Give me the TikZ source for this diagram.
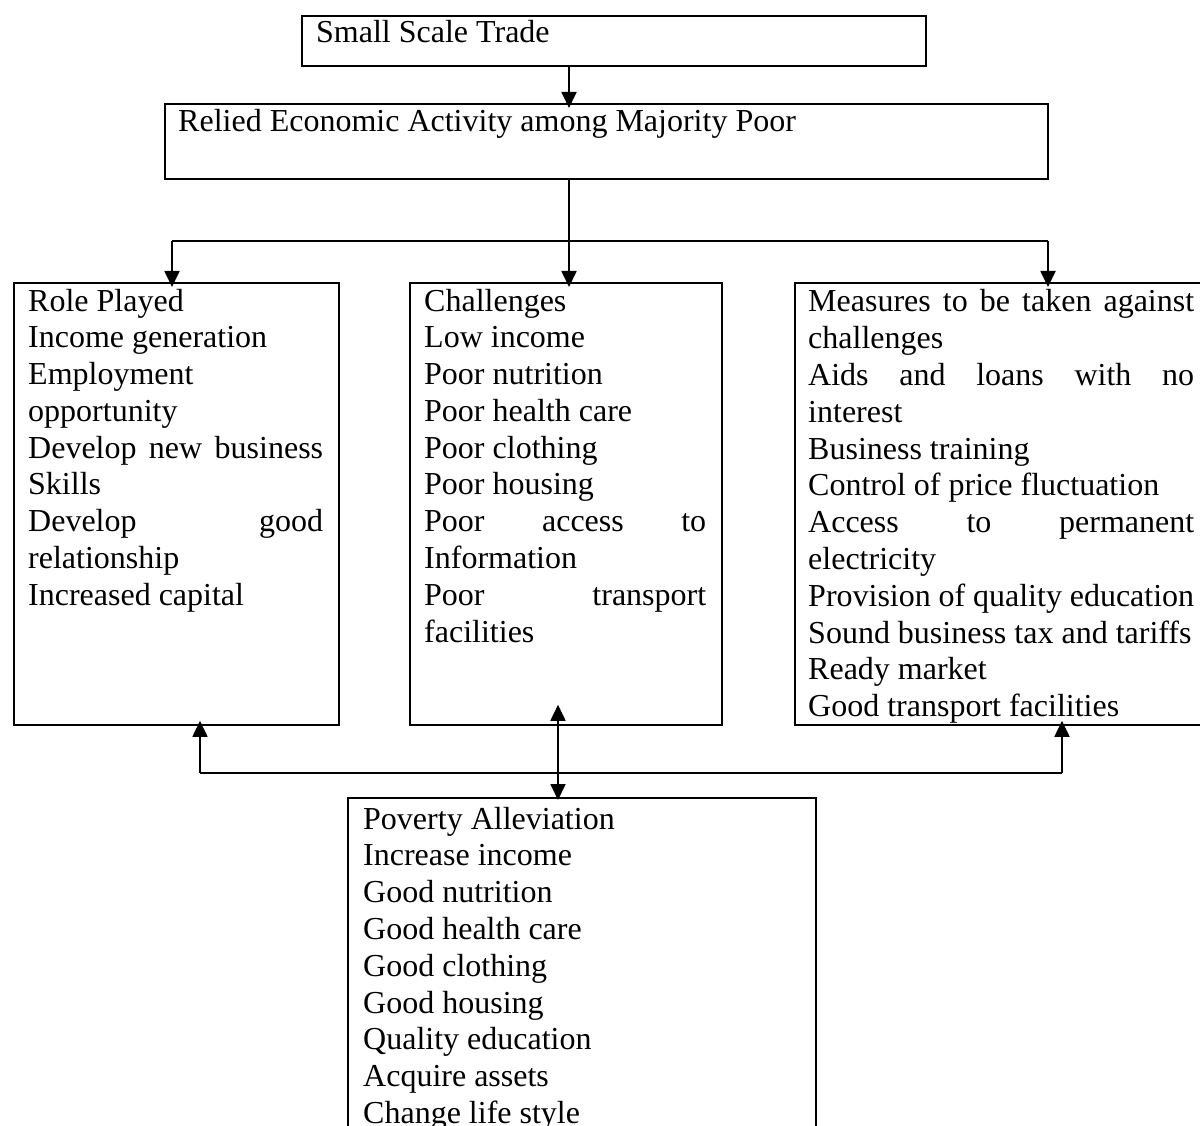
\documentclass[tikz,border=0pt]{standalone}
\usepackage{fontspec}
\setmainfont{Liberation Serif}
\usetikzlibrary{arrows.meta,calc}
\newcommand\jl[1]{\makebox[\linewidth][s]{#1}}
\newcommand\boxtext[2]{\parbox[t]{#1pt}{\fontsize{32}{36.8}\selectfont\raggedright #2}}
\begin{document}
\begin{tikzpicture}[x=1pt,y=-1pt,
  box/.style={draw,line width=1.8pt,inner sep=0pt,anchor=north west},
  txt/.style={inner sep=0pt,anchor=base west},
  tip/.style={Triangle[length=16pt,width=15pt]},
  arr/.style={line width=1.8pt,-{Triangle[length=16pt,width=15pt]},shorten >=-5pt},
  darr/.style={line width=1.8pt,{Triangle[length=16pt,width=15pt]}-{Triangle[length=16pt,width=15pt]},shorten >=-3pt},
  conn/.style={line width=1.8pt}]
\useasboundingbox (0,0) rectangle (1200,1126);
\clip (0,0) rectangle (1200,1126);
% boxes
\node[box,minimum width=624pt,minimum height=50pt] (sst) at (301,15) {};
\node[box,minimum width=883pt,minimum height=75pt] (rel) at (164,103) {};
\node[box,minimum width=325pt,minimum height=442pt] (role) at (13,282) {};
\node[box,minimum width=312pt,minimum height=442pt] (chal) at (409,282) {};
\node[box,minimum width=430pt,minimum height=442pt] (meas) at (794,282) {};
\node[box,minimum width=468pt,minimum height=360pt] (pov) at (347,797) {};
% texts
\node[txt] (tsst) at (316,43) {\fontsize{32}{36.8}\selectfont Small Scale Trade};
\node[txt] (trel) at (178,132) {\fontsize{32}{36.8}\selectfont Relied Economic Activity among Majority Poor};
\node[txt] (trole) at (28,311) {\boxtext{295}{Role Played\\
Income generation\\
Employment\\
opportunity\\
\jl{Develop new business}\\
Skills\\
\jl{Develop good}\\
relationship\\
Increased capital}};
\node[txt] (tchal) at (424,311) {\boxtext{282}{Challenges\\
Low income\\
Poor nutrition\\
Poor health care\\
Poor clothing\\
Poor housing\\
\jl{Poor access to}\\
Information\\
\jl{Poor transport}\\
facilities}};
\node[txt] (tmeas) at (808,312) {\boxtext{386}{\jl{Measures to be taken against}\\
challenges\\
\jl{Aids and loans with no}\\
interest\\
Business training\\
Control of price fluctuation\\
\jl{Access to permanent}\\
electricity\\
Provision of quality education\\
Sound business tax and tariffs\\
Ready market\\
Good transport facilities}};
\node[txt] (tpov) at (363,829) {\boxtext{440}{Poverty Alleviation\\
Increase income\\
Good nutrition\\
Good health care\\
Good clothing\\
Good housing\\
Quality education\\
Acquire assets\\
Change life style}};
% connector coordinates
\coordinate (c1) at (569,241);
\coordinate (cl) at (172,241);
\coordinate (cr) at (1048,241);
\coordinate (b) at (558,773);
\coordinate (bl) at (200,773);
\coordinate (br) at (1062,773);
% top connectors
\draw[arr] (sst.south -| c1) -- (rel.north -| c1);
\draw[arr] (rel.south -| c1) -- (chal.north -| c1);
\draw[conn] (cl) -- (cr);
\draw[arr] (cl) -- (role.north -| cl);
\draw[arr] (cr) -- (meas.north -| cr);
% bottom connectors
\draw[conn] (bl) -- (br);
\draw[arr] (bl) -- (role.south -| bl);
\draw[arr] (br) -- (meas.south -| br);
\draw[darr] ($(chal.south -| b)+(0,-21)$) -- (pov.north -| b);
\end{tikzpicture}
\end{document}
